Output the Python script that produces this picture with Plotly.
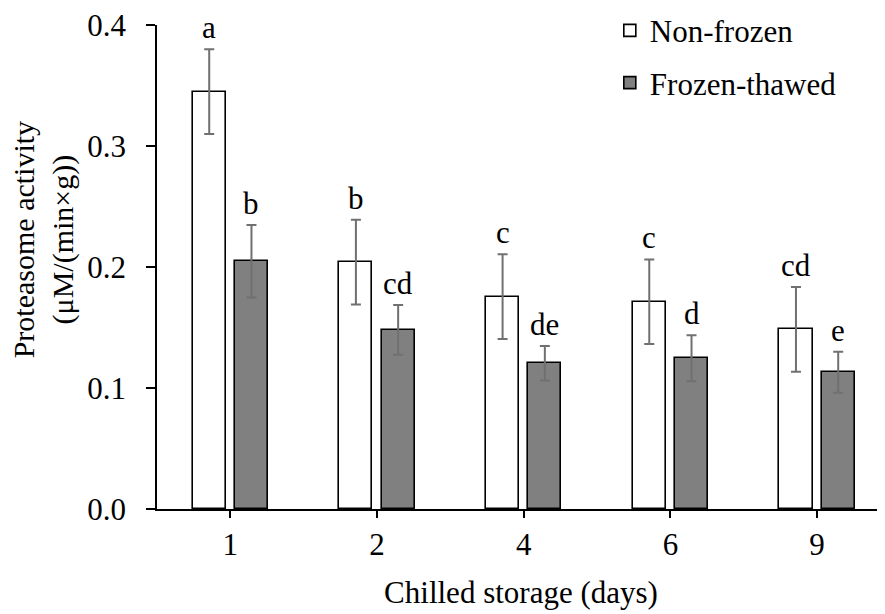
import plotly.graph_objects as go

categories = ["1", "2", "4", "6", "9"]
nonfrozen = [0.345, 0.204, 0.1755, 0.1713, 0.1485]
nonfrozen_err = [0.035, 0.035, 0.035, 0.035, 0.035]
frozen = [0.2047, 0.148, 0.1204, 0.1245, 0.113]
frozen_err = [0.030, 0.0205, 0.0143, 0.019, 0.017]
nonfrozen_letters = ["a", "b", "c", "c", "cd"]
frozen_letters = ["b", "cd", "de", "d", "e"]

FONT = "Liberation Serif, Times New Roman, serif"
FS = 31
BW = 0.226
OFF_W = -0.257
OFF_F = 0.031
ERRC = "#707070"

fig = go.Figure()
fig.add_trace(go.Bar(
    x=categories, y=nonfrozen, name="Non-frozen", width=BW, offset=OFF_W,
    marker=dict(color="white", line=dict(color="black", width=1.6)),
    error_y=dict(type="data", array=nonfrozen_err, color=ERRC, thickness=2, width=5),
    legendgroup="g1",
))
fig.add_trace(go.Bar(
    x=categories, y=frozen, name="Frozen-thawed", width=BW, offset=OFF_F,
    marker=dict(color="#808080", line=dict(color="black", width=1.6)),
    error_y=dict(type="data", array=frozen_err, color=ERRC, thickness=2, width=5),
    legendgroup="g2",
))

annotations = []
for i, (v, e, t) in enumerate(zip(nonfrozen, nonfrozen_err, nonfrozen_letters)):
    annotations.append(dict(x=i + OFF_W + BW / 2, y=v + e, xref="x", yref="y", text=t,
                            showarrow=False, yanchor="bottom", yshift=2,
                            font=dict(family=FONT, size=FS, color="black")))
for i, (v, e, t) in enumerate(zip(frozen, frozen_err, frozen_letters)):
    annotations.append(dict(x=i + OFF_F + BW / 2, y=v + e, xref="x", yref="y", text=t,
                            showarrow=False, yanchor="bottom", yshift=2,
                            font=dict(family=FONT, size=FS, color="black")))
annotations.append(dict(x=-0.156, y=0.556, xref="paper", yref="paper",
                        text="Proteasome activity<br>(μM/(min×g))", textangle=-90,
                        showarrow=False, xanchor="center", yanchor="middle",
                        font=dict(family=FONT, size=30, color="black")))

fig.update_layout(
    width=885, height=614,
    margin=dict(l=149, r=8, t=17, b=113, autoexpand=False),
    plot_bgcolor="white", paper_bgcolor="white",
    font=dict(family=FONT, size=FS, color="black"),
    showlegend=True,
    legend=dict(x=0.622, y=1.044, xanchor="left", yanchor="top",
                font=dict(family=FONT, size=FS), tracegroupgap=9,
                bgcolor="rgba(0,0,0,0)"),
    annotations=annotations,
    bargap=0,
)
fig.update_xaxes(
    type="category", range=[-0.5, 4.463],
    showline=True, linecolor="black", linewidth=1.5,
    ticks="outside", ticklen=7, tickcolor="black", tickwidth=1.5,
    tickfont=dict(family=FONT, size=FS),
    title=dict(text="Chilled storage (days)", font=dict(family=FONT, size=FS), standoff=20),
    showgrid=False, zeroline=False,
)
fig.update_yaxes(
    range=[0, 0.4], tickvals=[0, 0.1, 0.2, 0.3, 0.4],
    ticktext=["0.0", "0.1", "0.2", "0.3", "0.4"],
    showline=True, linecolor="black", linewidth=1.5,
    ticks="outside", ticklen=9, tickcolor="black", tickwidth=1.5,
    tickfont=dict(family=FONT, size=FS), ticklabelstandoff=14,
    ticklabeloverflow="allow",
    showgrid=False, zeroline=False,
)

fig.write_html("out.html")
